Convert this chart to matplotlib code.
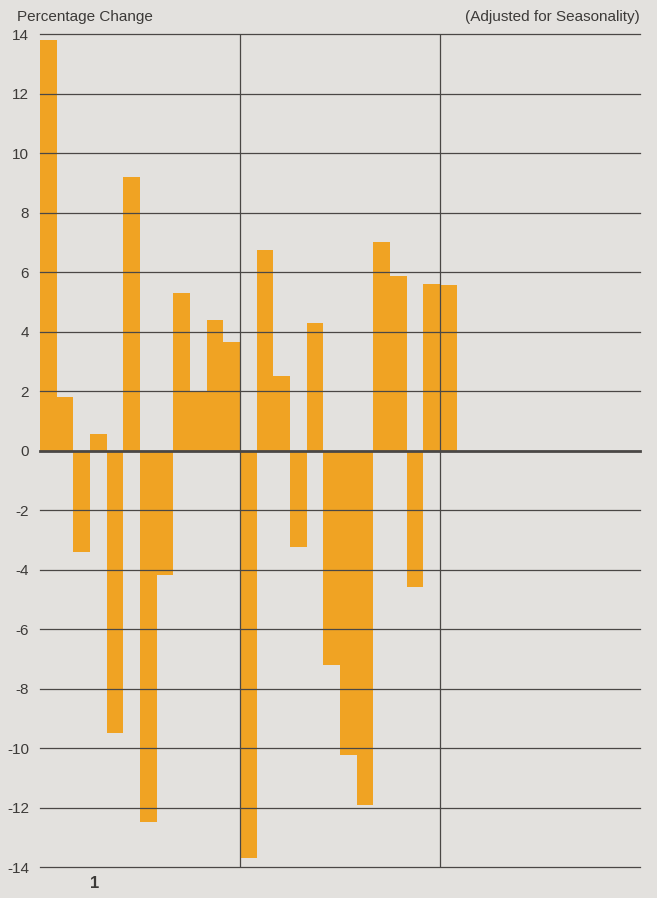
import numpy as np
import matplotlib.pyplot as plt

plt.rcParams['font.family'] = ['Liberation Sans', 'DejaVu Sans']

# monthly percentage change, seasonally adjusted
values = [13.8, 1.8, -3.4, 0.55, -9.5, 9.2, -12.5, -4.2, 5.3, 2.0, 4.4, 3.65,
          -13.7, 6.75, 2.5, -3.25, 4.3, -7.2, -10.25, -11.9, 7.0, 5.85, -4.6, 5.6,
          5.55]
y_ticks = [14, 12, 10, 8, 6, 4, 2, 0, -2, -4, -6, -8, -10, -12, -14]
year_breaks = [12, 24]
period_label = "1"

bg = "#e3e1de"
bar_color = "#f0a323"
line_color = "#4a4745"
text_color = "#3c3a38"

fig = plt.figure(figsize=(6.57, 8.98), dpi=100, facecolor=bg)
ax = fig.add_axes([0.061, 0.0345, 0.913, 0.9276], facecolor=bg)

x = np.arange(len(values))
ax.bar(x, values, width=1.0, align="edge", color=bar_color, zorder=2)

ax.set_xlim(0, 36)
ax.set_ylim(-14, 14)

for t in y_ticks:
    lw = 2.0 if t == 0 else 0.9
    ax.axhline(t, color=line_color, linewidth=lw, zorder=3, clip_on=False)
for b in year_breaks:
    ax.vlines(b, -14, 14, color=line_color, linewidth=0.9, zorder=3)

for s in ax.spines.values():
    s.set_visible(False)
ax.set_xticks([])
ax.set_yticks(y_ticks)
ax.set_yticklabels([str(t) for t in y_ticks], color=text_color, fontsize=11)
ax.tick_params(axis="y", length=0, pad=8)

ax.text(3.3, -14.55, period_label, ha="center", va="center", fontsize=12,
        fontweight="bold", color=text_color)
fig.text(0.026, 0.981, "Percentage Change", ha="left", va="center",
         fontsize=11, color=text_color)
fig.text(0.974, 0.981, "(Adjusted for Seasonality)", ha="right", va="center",
         fontsize=11, color=text_color)

fig.savefig("out.png", dpi=100, facecolor=bg)
